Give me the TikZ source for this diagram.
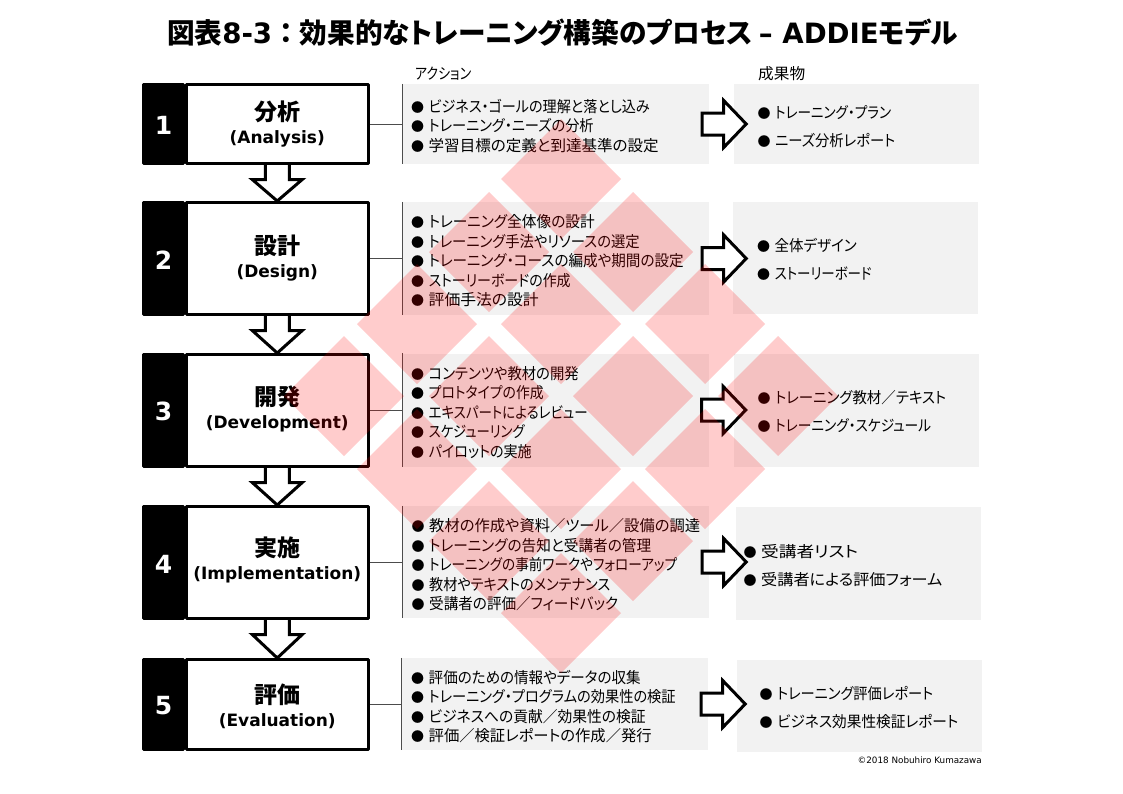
\documentclass[tikz,border=0pt]{standalone}
\usepackage{fontspec}
\setmainfont{Noto Sans CJK JP}[RawFeature=+palt]
\newfontfamily\vfont{DejaVu Sans}
\usetikzlibrary{calc}
\usetikzlibrary{backgrounds}
\newcommand{\itm}[2]{\makebox[17.5pt][l]{\fontsize{13}{13}\selectfont ●}\resizebox{#1pt}{\height}{#2}}
\newcommand{\stepen}[1]{{\vfont\fontsize{17}{25}\selectfont #1}}
\tikzset{
  stepbox/.style={draw=black,fill=white,line width=3pt,line join=round,minimum width=182.5pt,inner sep=0pt},
  steptext/.style={align=center,inner sep=0pt,font=\fontsize{23}{25}\selectfont\bfseries},
  numbox/.style={draw=black,fill=black,line width=3pt,line join=round,minimum width=40pt,text=white,inner sep=0pt,text height=21pt,font=\fontsize{25}{25}\selectfont\vfont\bfseries},
  actbox/.style={fill=black!5,minimum width=306pt,inner sep=0pt},
  outbox/.style={fill=black!5,minimum width=245pt,inner sep=0pt},
  actlist/.style={anchor=west,align=left,inner sep=0pt,font=\fontsize{15.5}{19.5}\selectfont},
  outlist/.style={anchor=west,align=left,inner sep=0pt,font=\fontsize{15.5}{28}\selectfont},
  headtext/.style={anchor=west,inner sep=0pt,font=\fontsize{15.5}{16}\selectfont},
  tie/.style={black!70,line width=1pt},
  boxarrow/.style={draw=black,fill=white,line width=3pt,miter limit=10},
  stamp/.style={fill=red,fill opacity=0.2}
}
\begin{document}
\begin{tikzpicture}[x=1pt,y=-1pt]
\useasboundingbox (0,0) rectangle (1123,793);
\node[inner sep=0pt,font=\fontsize{28}{30}\selectfont\bfseries] (title) at (562.5,33) {\resizebox{791pt}{\height}{図表{\vfont 8-3}\hspace{7pt}：\hspace{7pt}効果的なトレーニング構築のプロセス {\vfont – ADDIE}モデル}};
\node[headtext] (acthead) at (415,74) {\resizebox{56pt}{\height}{アクション}};
\node[headtext] (outhead) at (758,74) {\resizebox{47pt}{\height}{成果物}};

\node[actbox,minimum height=80pt] (act1) at (556,124) {};
\node[actbox,minimum height=113pt] (act2) at (556,258.5) {};
\node[actbox,minimum height=113pt] (act3) at (555.5,410) {};
\node[actbox,minimum height=112pt] (act4) at (556,562) {};
\node[actbox,minimum height=92pt] (act5) at (555,704) {};
\node[outbox,minimum height=80pt] (out1) at (856.5,124) {};
\node[outbox,minimum height=112pt] (out2) at (855.5,258) {};
\node[outbox,minimum height=113pt] (out3) at (856.5,410.5) {};
\node[outbox,minimum height=113pt] (out4) at (858.5,563.5) {};
\node[outbox,minimum height=92pt] (out5) at (859.5,706) {};

\node[stepbox,minimum height=79pt] (step1) at (277.25,124) {};
\node[stepbox,minimum height=112pt] (step2) at (277.25,258.5) {};
\node[stepbox,minimum height=112pt] (step3) at (277.25,410.5) {};
\node[stepbox,minimum height=112pt] (step4) at (277.25,562.5) {};
\node[stepbox,minimum height=90pt] (step5) at (277.25,704.5) {};
\node[steptext] (name1) at (277.25,124) {分析\\[-2pt]\stepen{(Analysis)}};
\node[steptext] (name2) at (277.25,258.5) {設計\\[-2pt]\stepen{(Design)}};
\node[steptext] (name3) at (277.25,408.5) {開発\\[-2pt]\stepen{(Development)}};
\node[steptext] (name4) at (277.25,560) {実施\\[-2pt]\stepen{(Implementation)}};
\node[steptext] (name5) at (277.25,706.5) {評価\\[-2pt]\stepen{(Evaluation)}};
\node[numbox,minimum height=79pt] (num1) at (163.5,124) {1};
\node[numbox,minimum height=112pt] (num2) at (163.5,258.5) {2};
\node[numbox,minimum height=112pt] (num3) at (163.5,410.5) {3};
\node[numbox,minimum height=112pt] (num4) at (163.5,562.5) {4};
\node[numbox,minimum height=90pt] (num5) at (163.5,704.5) {5};

\begin{scope}[on background layer]
\foreach \a/\b in {step1/step2,step2/step3,step3/step4,step4/step5}
  \draw[boxarrow] ($(\a.south)+(-12,0)$) -- ++(0,14.5) -- ++(-13,0) -- (\b.north) -- ($(\a.south)+(25,14.5)$) -- ++(-13,0) -- ++(0,-14.5);
\end{scope}

\foreach \n in {1,2,3,4,5} {
  \draw[tie] (step\n.east) -- (step\n.east -| act\n.west);
  \draw[tie] (act\n.north west) -- (act\n.south west);
  \draw[boxarrow] ($(act\n.east)+(-7,-11)$) -- ++(21.5,0) -- ++(0,-12.5) -- ($(act\n.east)+(37,0)$) -- ($(act\n.east)+(14.5,23.5)$) -- ++(0,-12.5) -- ++(-21.5,0) -- cycle;
}

\node[actlist] (list1) at (411,126) {\itm{221}{ビジネス・ゴールの理解と落とし込み}\\\itm{165}{トレーニング・ニーズの分析}\\\itm{230}{学習目標の定義と到達基準の設定}};
\node[actlist] (list2) at (411,261) {\itm{166}{トレーニング全体像の設計}\\\itm{211}{トレーニング手法やリソースの選定}\\\itm{255}{トレーニング・コースの編成や期間の設定}\\\itm{142}{ストーリーボードの作成}\\\itm{110}{評価手法の設計}};
\node[actlist] (list3) at (411,412.5) {\itm{150}{コンテンツや教材の開発}\\\itm{115}{プロトタイプの作成}\\\itm{159}{エキスパートによるレビュー}\\\itm{96}{スケジューリング}\\\itm{103}{パイロットの実施}};
\node[actlist] (list4) at (411.5,565) {\itm{271}{教材の作成や資料／ツール／設備の調達}\\\itm{222}{トレーニングの告知と受講者の管理}\\\itm{248}{トレーニングの事前ワークやフォローアップ}\\\itm{181}{教材やテキストのメンテナンス}\\\itm{189}{受講者の評価／フィードバック}};
\node[actlist] (list5) at (411,706.5) {\itm{212}{評価のための情報やデータの収集}\\\itm{247}{トレーニング・プログラムの効果性の検証}\\\itm{217}{ビジネスへの貢献／効果性の検証}\\\itm{223}{評価／検証レポートの作成／発行}};
\node[outlist] (prod1) at (757.5,127) {\itm{116}{トレーニング・プラン}\\\itm{120}{ニーズ分析レポート}};
\node[outlist] (prod2) at (757,259) {\itm{82}{全体デザイン}\\\itm{97}{ストーリーボード}};
\node[outlist] (prod3) at (757.5,411) {\itm{171}{トレーニング教材／テキスト}\\\itm{156}{トレーニング・スケジュール}};
\node[outlist] (prod4) at (743.5,566) {\itm{97}{受講者リスト}\\\itm{181}{受講者による評価フォーム}};
\node[outlist] (prod5) at (759.5,708) {\itm{156}{トレーニング評価レポート}\\\itm{181}{ビジネス効果性検証レポート}};
\node[anchor=east,inner sep=0pt,font=\fontsize{8.8}{10}\selectfont\vfont] (copy) at (982,760) {©2018 Nobuhiro Kumazawa};

\foreach \x/\y in {561/179,489/252,633/252,417/324,561/324,705/324,344/396,489/396,633/396,778/396,417/469,561/469,705/469,489/541,633/541,561/613}
  \fill[stamp] (\x-60,\y) -- (\x,\y-60) -- (\x+60,\y) -- (\x,\y+60) -- cycle;
\end{tikzpicture}
\end{document}
